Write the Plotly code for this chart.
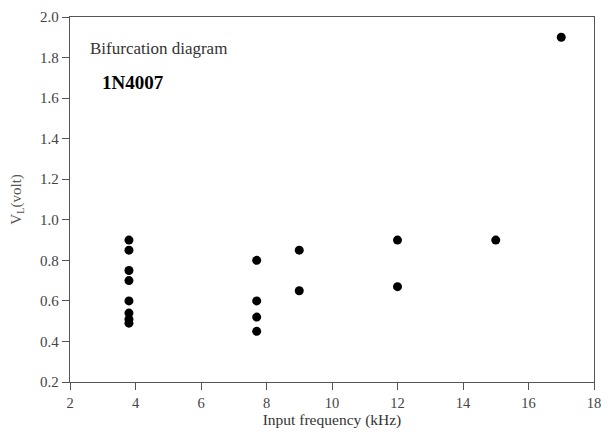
import plotly.graph_objects as go

freq_khz = [3.8, 3.8, 3.8, 3.8, 3.8, 3.8, 3.8, 3.8,
            7.7, 7.7, 7.7, 7.7,
            9.0, 9.0,
            12.0, 12.0,
            15.0,
            17.0]
v_load = [0.90, 0.85, 0.75, 0.70, 0.60, 0.54, 0.51, 0.49,
          0.80, 0.60, 0.52, 0.45,
          0.85, 0.65,
          0.90, 0.67,
          0.90,
          1.90]

x_ticks = [2, 4, 6, 8, 10, 12, 14, 16, 18]
y_ticks = [0.2, 0.4, 0.6, 0.8, 1.0, 1.2, 1.4, 1.6, 1.8, 2.0]

font_family = "Liberation Serif"

fig = go.Figure()
fig.add_trace(go.Scatter(
    x=freq_khz, y=v_load, mode="markers",
    marker=dict(color="black", size=9),
    showlegend=False,
))

axis_common = dict(
    showgrid=False, zeroline=False,
    showline=True, linecolor="#555", linewidth=1.3, mirror=True,
    ticks="outside", ticklen=7, tickcolor="#555",
)

fig.update_xaxes(
    range=[2, 18], tickvals=x_ticks,
    tickfont=dict(family=font_family, size=14.5, color="#444"),
    title=dict(text="Input frequency (kHz)", font=dict(family=font_family, size=15.5, color="#333"), standoff=3),
    **axis_common,
)
fig.update_yaxes(
    range=[0.2, 2.0], tickvals=y_ticks, tickformat=".1f",
    tickfont=dict(family=font_family, size=15, color="#444"),
    title=dict(text="V<sub>L</sub>(volt)", font=dict(family=font_family, size=15, color="#555"), standoff=14),
    **axis_common,
)

fig.add_annotation(
    x=0.035, y=0.915, xref="paper", yref="paper", xanchor="left", yanchor="middle",
    text="Bifurcation diagram", showarrow=False,
    font=dict(family=font_family, size=17, color="#333"),
)
fig.add_annotation(
    x=0.058, y=0.82, xref="paper", yref="paper", xanchor="left", yanchor="middle",
    text="<b>1N4007</b>", showarrow=False,
    font=dict(family=font_family, size=19, color="black"),
)

fig.update_layout(
    width=610, height=438,
    margin=dict(l=70, r=9, t=14, b=56),
    paper_bgcolor="white", plot_bgcolor="white",
    font=dict(family=font_family),
)

fig.write_html("out.html")
